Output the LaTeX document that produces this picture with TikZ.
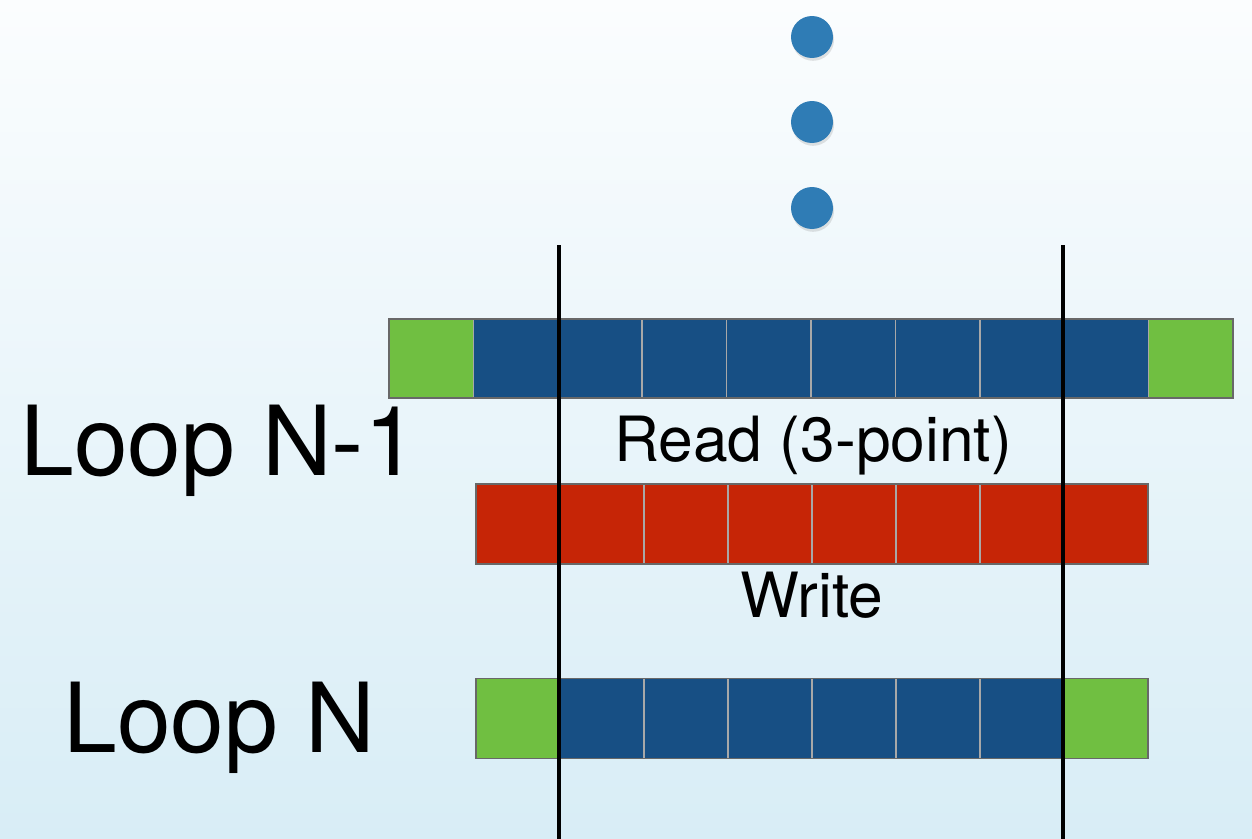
\documentclass[tikz,border=0pt]{standalone}
\usepackage{fontspec}
\setmainfont{TeX Gyre Heros}
\usetikzlibrary{shadows}

\definecolor{cellblue}{HTML}{174F84}
\definecolor{cellgreen}{HTML}{70BF41}
\definecolor{cellred}{HTML}{C62506}
\definecolor{dotblue}{HTML}{2F7CB5}
\definecolor{bgtop}{HTML}{FBFDFE}
\definecolor{bgbottom}{HTML}{D8EDF6}
\definecolor{rimgray}{HTML}{686868}
\definecolor{sepgray}{HTML}{A8A8A8}

\tikzset{
  cellbox/.style={rectangle, minimum width=1.688cm, minimum height=1.58cm,
    inner sep=0pt, outer sep=0pt, draw=sepgray, line width=0.9pt},
  narrowcell/.style={cellbox, minimum width=1.68cm, minimum height=1.6cm},
  rim/.style={draw=rimgray, line width=1.1pt},
  guide/.style={line width=2.7pt, black},
  dot/.style={circle, fill=dotblue, minimum size=0.84cm, inner sep=0pt,
    drop shadow={opacity=0.22, shadow xshift=0.6pt, shadow yshift=-1.6pt}},
  bigtext/.style={anchor=base west, inner sep=0pt, font=\fontsize{55}{62}\selectfont},
  midtext/.style={anchor=base, inner sep=0pt, font=\fontsize{35.5}{42}\selectfont},
}

\begin{document}
\begin{tikzpicture}[x=0.02cm, y=-0.02cm]
  \useasboundingbox (0,0) rectangle (1252,839);
  % backdrop
  \shade[top color=bgtop, bottom color=bgbottom] (0,0) rectangle (1252,839);

  % three dots (ellipsis)
  \node[dot] (d1) at (812,37) {};
  \node[dot] (d2) at (812,122) {};
  \node[dot] (d3) at (812,208) {};

  % upper array: ten cells, halo cells at both ends
  \foreach \i in {1,...,10} {
    \pgfmathsetmacro{\cx}{389 + 84.4*(\i-0.5)}
    \ifnum\i=1 \def\fc{cellgreen}\else\ifnum\i=10 \def\fc{cellgreen}\else\def\fc{cellblue}\fi\fi
    \node[cellbox, fill=\fc] (top-\i) at (\cx,358.5) {};
  }
  \draw[rim] (top-1.north west) rectangle (top-10.south east);

  % write array: eight cells
  \foreach \i in {1,...,8} {
    \pgfmathsetmacro{\cx}{476 + 84*(\i-0.5)}
    \node[narrowcell, fill=cellred] (mid-\i) at (\cx,524) {};
  }
  \draw[rim] (mid-1.north west) rectangle (mid-8.south east);

  % lower array: eight cells, halo cells at both ends
  \foreach \i in {1,...,8} {
    \pgfmathsetmacro{\cx}{476 + 84*(\i-0.5)}
    \ifnum\i=1 \def\fc{cellgreen}\else\ifnum\i=8 \def\fc{cellgreen}\else\def\fc{cellblue}\fi\fi
    \node[narrowcell, fill=\fc] (bot-\i) at (\cx,718.5) {};
  }
  \draw[rim] (bot-1.north west) rectangle (bot-8.south east);

  % boundary guide lines
  \coordinate (gl-top) at (559,245);
  \coordinate (gl-bot) at (559,839);
  \coordinate (gr-top) at (1063,245);
  \coordinate (gr-bot) at (1063,839);
  \draw[guide] (gl-top) -- (gl-bot);
  \draw[guide] (gr-top) -- (gr-bot);

  % labels
  \node[bigtext] (loopprev) at (20,475) {Loop N-1};
  \node[bigtext] (loopcur) at (63,752) {Loop N};
  \node[midtext] (readlbl) at (813,461) {Read (3-point)};
  \node[midtext] (writelbl) at (812,617) {Write};
\end{tikzpicture}
\end{document}
